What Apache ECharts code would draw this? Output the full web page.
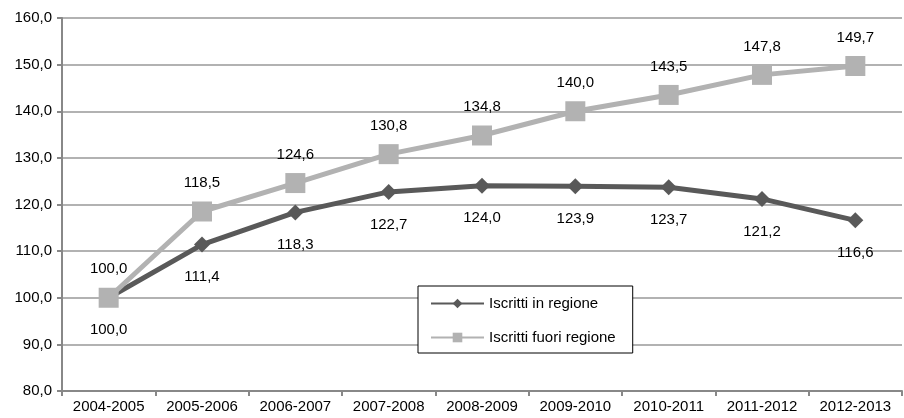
<!DOCTYPE html>
<html>
<head>
<meta charset="utf-8">
<script src="https://cdn.jsdelivr.net/npm/echarts@6/dist/echarts.min.js"></script>
<style>
  html, body { margin: 0; padding: 0; background: #fff; }
  #chart { width: 904px; height: 418px; }
</style>
</head>
<body>
<div id="chart"></div>
<script>
  var anni = ['2004-2005', '2005-2006', '2006-2007', '2007-2008', '2008-2009', '2009-2010', '2010-2011', '2011-2012', '2012-2013'];
  var inRegione = [100.0, 111.4, 118.3, 122.7, 124.0, 123.9, 123.7, 121.2, 116.6];
  var fuoriRegione = [100.0, 118.5, 124.6, 130.8, 134.8, 140.0, 143.5, 147.8, 149.7];

  function virgola(v) {
    return v.toFixed(1).replace('.', ',');
  }

  var myChart = echarts.init(document.getElementById('chart'));
  myChart.setOption({
    animation: false,
    textStyle: { fontFamily: 'Liberation Sans, Arial, sans-serif' },
    grid: { left: 62, right: 2, top: 18, bottom: 27 },
    legend: {
      orient: 'vertical',
      left: 418, top: 286,
      padding: [10, 17, 8, 12],
      itemGap: 19,
      itemWidth: 53, itemHeight: 12,
      borderColor: '#000', borderWidth: 1,
      backgroundColor: '#fff',
      textStyle: { fontSize: 15, color: '#000' },
      data: ['Iscritti in regione', 'Iscritti fuori regione']
    },
    xAxis: {
      type: 'category',
      data: anni,
      boundaryGap: true,
      axisLine: { lineStyle: { color: '#888', width: 2 } },
      axisTick: { show: true, length: 5, lineStyle: { color: '#888', width: 2 } },
      axisLabel: { color: '#000', fontSize: 15, margin: 8 }
    },
    yAxis: {
      type: 'value',
      min: 80, max: 160, interval: 10,
      axisLine: { show: true, lineStyle: { color: '#888', width: 2 } },
      axisTick: { show: true, length: 5, lineStyle: { color: '#888', width: 2 } },
      splitLine: { lineStyle: { color: '#999', width: 1.5 } },
      axisLabel: { color: '#000', fontSize: 15, margin: 10, formatter: virgola }
    },
    series: [
      {
        name: 'Iscritti in regione',
        type: 'line',
        data: inRegione,
        symbol: 'diamond',
        symbolSize: 16,
        lineStyle: { color: '#595959', width: 5 },
        itemStyle: { color: '#595959' },
        label: {
          show: true, position: 'bottom', distance: 17,
          color: '#000', fontSize: 15,
          formatter: function (p) { return virgola(p.value); }
        },
        z: 2
      },
      {
        name: 'Iscritti fuori regione',
        type: 'line',
        data: fuoriRegione,
        symbol: 'rect',
        symbolSize: 20,
        lineStyle: { color: '#b2b2b2', width: 5 },
        itemStyle: { color: '#b2b2b2' },
        label: {
          show: true, position: 'top', distance: 11,
          color: '#000', fontSize: 15,
          formatter: function (p) { return virgola(p.value); }
        },
        z: 3
      }
    ]
  });
  window.addEventListener('resize', myChart.resize);
</script>
</body>
</html>
